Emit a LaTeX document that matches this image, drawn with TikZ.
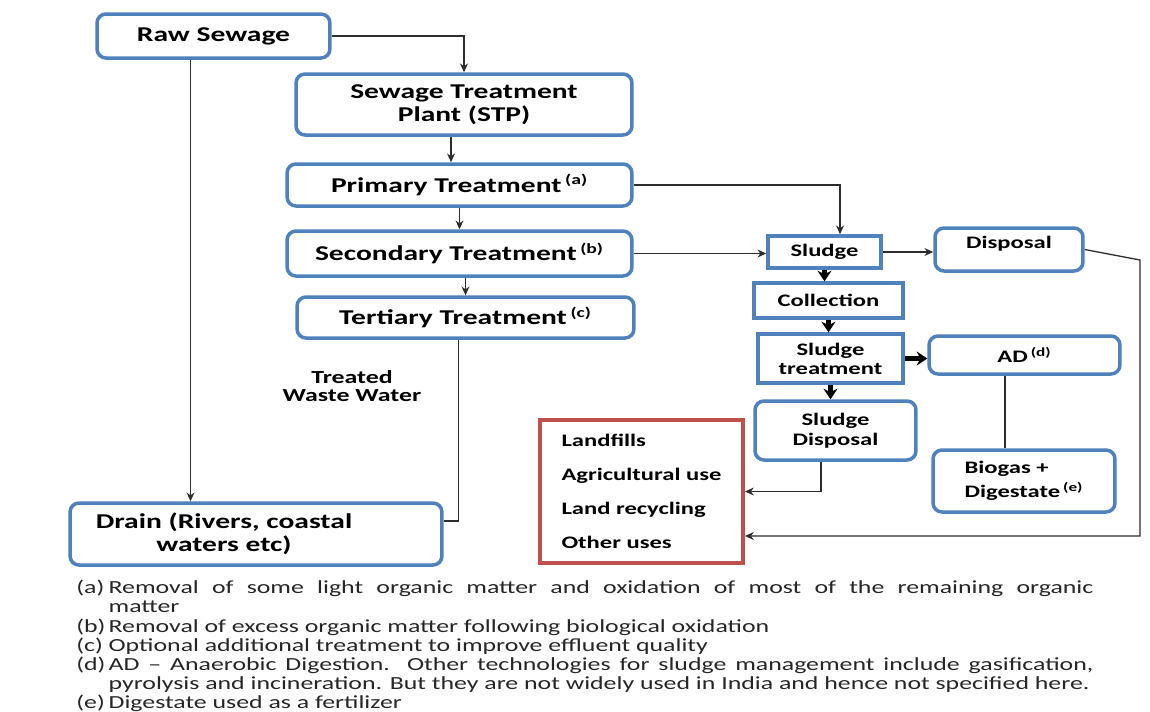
\documentclass[tikz,border=0pt]{standalone}
\usepackage{fontspec}
\setmainfont[FakeStretch=1.4]{Carlito}
\usetikzlibrary{arrows.meta,positioning}
\definecolor{boxblue}{RGB}{79,129,189}
\definecolor{boxred}{RGB}{192,80,77}
\definecolor{linegray}{RGB}{45,45,45}
\newcommand{\px}{0.02cm}
\newcommand{\fn}[1]{\textsuperscript{(#1)}}

\begin{document}
\begin{tikzpicture}[x=\px, y=-\px, >=Stealth,
  stage/.style={draw=boxblue, line width=0.07cm, rounded corners=0.18cm, fill=white,
    align=center, inner sep=0pt, font=\fontsize{12}{13}\selectfont\bfseries},
  smallstage/.style={stage, font=\fontsize{10}{11.5}\selectfont\bfseries},
  sqstage/.style={smallstage, sharp corners},
  usesbox/.style={draw=boxred, line width=0.08cm, fill=white, align=left, inner sep=0pt,
    font=\fontsize{10}{19.3}\selectfont\bfseries},
  link/.style={-{Stealth[length=5pt,width=4.5pt]}, draw=linegray, line width=0.026cm},
  plain/.style={draw=linegray, line width=0.026cm},
  fat/.style={-{Stealth[length=6pt,width=8pt]}, draw=black, line width=0.085cm},
  notes/.style={inner sep=0pt, align=left, text=black!85, font=\fontsize{10.5}{10.8}\selectfont}]
  \path[fill=white, use as bounding box] (0,0) rectangle (1150,711);

  \node[stage, minimum width=4.66cm, minimum height=0.88cm] (raw) at (213.5,36) {Raw Sewage};
  \node[stage, minimum width=6.72cm, minimum height=1.22cm] (stp) at (464,104.5) {Sewage Treatment\\Plant (STP)};
  \node[stage, minimum width=6.9cm, minimum height=0.84cm] (prim) at (459.5,185) {Primary Treatment\,\fn{a}};
  \node[stage, minimum width=6.9cm, minimum height=0.9cm] (sec) at (459.5,253.5) {Secondary Treatment\,\fn{b}};
  \node[stage, minimum width=6.74cm, minimum height=0.82cm] (tert) at (465.5,317.5) {Tertiary Treatment\,\fn{c}};
  \node[font=\fontsize{10.5}{10.3}\selectfont\bfseries, align=center] (treated) at (352,386) {Treated\\Waste Water};
  \node[stage, minimum width=7.44cm, minimum height=1.24cm] (drain) at (256,534)
    {Drain (Rivers, coastal\hspace*{1.28cm}\\waters etc)\hspace*{1.28cm}};

  \node[sqstage, minimum width=2.26cm, minimum height=0.64cm] (sludge) at (824.5,252) {Sludge};
  \node[smallstage, minimum width=2.96cm, minimum height=0.86cm, text depth=0.3cm] (disp) at (1009,249.5) {Disposal};
  \node[sqstage, minimum width=2.98cm, minimum height=0.7cm] (coll) at (828.5,300.5) {Collection};
  \node[sqstage, font=\fontsize{10}{10.8}\selectfont\bfseries, minimum width=2.9cm, minimum height=0.98cm] (streat) at (830.5,358.5) {Sludge\\treatment};
  \node[smallstage, minimum width=3.82cm, minimum height=0.76cm] (ad) at (1024.5,355) {AD\,\fn{d}};
  \node[smallstage, minimum width=3.22cm, minimum height=1.18cm] (sdisp) at (835.5,430.5) {Sludge\\Disposal};
  \node[smallstage, font=\fontsize{10}{13.5}\selectfont\bfseries, align=left, minimum width=3.64cm, minimum height=1.24cm] (biogas) at (1024,481) {Biogas +\\Digestate\,\fn{e}};
  \node[usesbox, minimum width=4.06cm, minimum height=2.86cm] (uses) at (641.5,491.5)
    {Landfills\\Agricultural use\\Land recycling\\Other uses};
  \coordinate (bend) at (1140,260);

  \draw[link] (raw.east) -| (stp.north);
  \draw[link] ([xshift=-0.46cm]raw.south) -- ([xshift=-0.46cm]raw.south |- drain.north);
  \draw[link] ([xshift=-0.26cm]stp.south) -- ([xshift=-0.26cm]stp.south |- prim.north);
  \draw[link] (prim.south) -- (sec.north);
  \draw[link] (sec.south -| tert.north) -- (tert.north);
  \draw[plain] ([xshift=-0.14cm]tert.south) |- ([yshift=0.26cm]drain.east);
  \draw[link] (prim.east) -| ([xshift=0.31cm]sludge.north);
  \draw[link] (sec.east) -- (sec.east -| sludge.west);
  \draw[link] (sludge.east) -- (sludge.east -| disp.west);
  \draw[fat] (sludge.south) -- (sludge.south |- coll.north);
  \draw[fat] (coll.south) -- (coll.south |- streat.north);
  \draw[fat] (streat.east) -- (streat.east -| ad.west);
  \draw[fat] (streat.south) -- (streat.south |- sdisp.north);
  \draw[plain] ([xshift=-0.39cm]ad.south) -- ([xshift=-0.39cm]ad.south |- biogas.north);
  \draw[link] ([xshift=-0.29cm]sdisp.south) |- (uses.east);
  \draw[link] (disp.east) -- (bend) |- ([yshift=-0.89cm]uses.east);

  \node[notes, anchor=north west] (notes) at (76,580) {%
    \begin{tabular}{@{}l@{\,}p{19.7cm}@{}}
    (a) & Removal of some light organic matter and oxidation of most of the remaining organic\linebreak
          matter\\
    (b) & Removal of excess organic matter following biological oxidation\\
    (c) & Optional additional treatment to improve effluent quality\\
    (d) & AD -- Anaerobic Digestion. Other technologies for sludge management include gasification,\linebreak
          pyrolysis and incineration. But they are not widely used in India and hence not specified here.\\
    (e) & Digestate used as a fertilizer
    \end{tabular}};
\end{tikzpicture}
\end{document}
